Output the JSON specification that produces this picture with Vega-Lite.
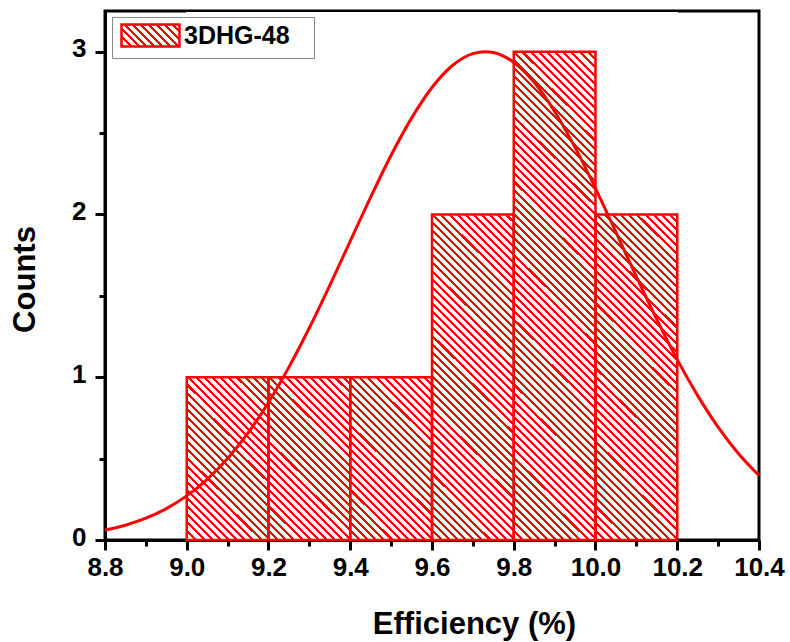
{
"$schema":"https://vega.github.io/schema/vega-lite/v6.json",
"width":654,"height":529,
"autosize":{"type":"none"},
"padding":{"left":105,"top":11,"right":31,"bottom":102},
"background":"white",
"datasets":{
"bars":[
{"lo":9.0,"hi":9.2,"count":1,"series":"3DHG-48"},
{"lo":9.2,"hi":9.4,"count":1,"series":"3DHG-48"},
{"lo":9.4,"hi":9.6,"count":1,"series":"3DHG-48"},
{"lo":9.6,"hi":9.8,"count":2,"series":"3DHG-48"},
{"lo":9.8,"hi":10.0,"count":3,"series":"3DHG-48"},
{"lo":10.0,"hi":10.2,"count":2,"series":"3DHG-48"}
],
"fit":[
{"fx":8.8,"fy":0.061},{"fx":8.85,"fy":0.091},{"fx":8.9,"fy":0.134},{"fx":8.95,"fy":0.193},
{"fx":9.0,"fy":0.271},{"fx":9.05,"fy":0.373},{"fx":9.1,"fy":0.501},{"fx":9.15,"fy":0.658},
{"fx":9.2,"fy":0.845},{"fx":9.25,"fy":1.062},{"fx":9.3,"fy":1.304},{"fx":9.35,"fy":1.565},
{"fx":9.4,"fy":1.836},{"fx":9.45,"fy":2.107},{"fx":9.5,"fy":2.364},{"fx":9.55,"fy":2.592},
{"fx":9.6,"fy":2.780},{"fx":9.65,"fy":2.915},{"fx":9.7,"fy":2.988},{"fx":9.73,"fy":3.0},
{"fx":9.75,"fy":2.995},{"fx":9.8,"fy":2.934},{"fx":9.85,"fy":2.812},{"fx":9.9,"fy":2.633},
{"fx":9.95,"fy":2.412},{"fx":10.0,"fy":2.160},{"fx":10.05,"fy":1.891},{"fx":10.1,"fy":1.618},
{"fx":10.15,"fy":1.355},{"fx":10.2,"fy":1.108},{"fx":10.25,"fy":0.887},{"fx":10.3,"fy":0.693},
{"fx":10.35,"fy":0.530},{"fx":10.4,"fy":0.396}
]
},
"layer":[
{
"data":{"name":"bars"},
"mark":{"type":"bar","strokeWidth":0,"fill":{"gradient":"linear","x1":0,"y1":1,"x2":0.1743,"y2":-0.1276,"stops":[
{"offset":0,"color":"red"},{"offset":0.005,"color":"red"},{"offset":0.005,"color":"white"},{"offset":0.0133,"color":"white"},
{"offset":0.0133,"color":"red"},{"offset":0.0183,"color":"red"},{"offset":0.0183,"color":"white"},{"offset":0.0267,"color":"white"},
{"offset":0.0267,"color":"red"},{"offset":0.0317,"color":"red"},{"offset":0.0317,"color":"white"},{"offset":0.04,"color":"white"},
{"offset":0.04,"color":"red"},{"offset":0.045,"color":"red"},{"offset":0.045,"color":"white"},{"offset":0.0533,"color":"white"},
{"offset":0.0533,"color":"red"},{"offset":0.0583,"color":"red"},{"offset":0.0583,"color":"white"},{"offset":0.0667,"color":"white"},
{"offset":0.0667,"color":"red"},{"offset":0.0717,"color":"red"},{"offset":0.0717,"color":"white"},{"offset":0.08,"color":"white"},
{"offset":0.08,"color":"red"},{"offset":0.085,"color":"red"},{"offset":0.085,"color":"white"},{"offset":0.0933,"color":"white"},
{"offset":0.0933,"color":"red"},{"offset":0.0983,"color":"red"},{"offset":0.0983,"color":"white"},{"offset":0.1067,"color":"white"},
{"offset":0.1067,"color":"red"},{"offset":0.1117,"color":"red"},{"offset":0.1117,"color":"white"},{"offset":0.12,"color":"white"},
{"offset":0.12,"color":"red"},{"offset":0.125,"color":"red"},{"offset":0.125,"color":"white"},{"offset":0.1333,"color":"white"},
{"offset":0.1333,"color":"red"},{"offset":0.1383,"color":"red"},{"offset":0.1383,"color":"white"},{"offset":0.1467,"color":"white"},
{"offset":0.1467,"color":"red"},{"offset":0.1517,"color":"red"},{"offset":0.1517,"color":"white"},{"offset":0.16,"color":"white"},
{"offset":0.16,"color":"red"},{"offset":0.165,"color":"red"},{"offset":0.165,"color":"white"},{"offset":0.1733,"color":"white"},
{"offset":0.1733,"color":"red"},{"offset":0.1783,"color":"red"},{"offset":0.1783,"color":"white"},{"offset":0.1867,"color":"white"},
{"offset":0.1867,"color":"red"},{"offset":0.1917,"color":"red"},{"offset":0.1917,"color":"white"},{"offset":0.2,"color":"white"},
{"offset":0.2,"color":"red"},{"offset":0.205,"color":"red"},{"offset":0.205,"color":"white"},{"offset":0.2133,"color":"white"},
{"offset":0.2133,"color":"red"},{"offset":0.2183,"color":"red"},{"offset":0.2183,"color":"white"},{"offset":0.2267,"color":"white"},
{"offset":0.2267,"color":"red"},{"offset":0.2317,"color":"red"},{"offset":0.2317,"color":"white"},{"offset":0.24,"color":"white"},
{"offset":0.24,"color":"red"},{"offset":0.245,"color":"red"},{"offset":0.245,"color":"white"},{"offset":0.2533,"color":"white"},
{"offset":0.2533,"color":"red"},{"offset":0.2583,"color":"red"},{"offset":0.2583,"color":"white"},{"offset":0.2667,"color":"white"},
{"offset":0.2667,"color":"red"},{"offset":0.2717,"color":"red"},{"offset":0.2717,"color":"white"},{"offset":0.28,"color":"white"},
{"offset":0.28,"color":"red"},{"offset":0.285,"color":"red"},{"offset":0.285,"color":"white"},{"offset":0.2933,"color":"white"},
{"offset":0.2933,"color":"red"},{"offset":0.2983,"color":"red"},{"offset":0.2983,"color":"white"},{"offset":0.3067,"color":"white"},
{"offset":0.3067,"color":"red"},{"offset":0.3117,"color":"red"},{"offset":0.3117,"color":"white"},{"offset":0.32,"color":"white"},
{"offset":0.32,"color":"red"},{"offset":0.325,"color":"red"},{"offset":0.325,"color":"white"},{"offset":0.3333,"color":"white"},
{"offset":0.3333,"color":"red"},{"offset":0.3383,"color":"red"},{"offset":0.3383,"color":"white"},{"offset":0.3467,"color":"white"},
{"offset":0.3467,"color":"red"},{"offset":0.3517,"color":"red"},{"offset":0.3517,"color":"white"},{"offset":0.36,"color":"white"},
{"offset":0.36,"color":"red"},{"offset":0.365,"color":"red"},{"offset":0.365,"color":"white"},{"offset":0.3733,"color":"white"},
{"offset":0.3733,"color":"red"},{"offset":0.3783,"color":"red"},{"offset":0.3783,"color":"white"},{"offset":0.3867,"color":"white"},
{"offset":0.3867,"color":"red"},{"offset":0.3917,"color":"red"},{"offset":0.3917,"color":"white"},{"offset":0.4,"color":"white"},
{"offset":0.4,"color":"red"},{"offset":0.405,"color":"red"},{"offset":0.405,"color":"white"},{"offset":0.4133,"color":"white"},
{"offset":0.4133,"color":"red"},{"offset":0.4183,"color":"red"},{"offset":0.4183,"color":"white"},{"offset":0.4267,"color":"white"},
{"offset":0.4267,"color":"red"},{"offset":0.4317,"color":"red"},{"offset":0.4317,"color":"white"},{"offset":0.44,"color":"white"},
{"offset":0.44,"color":"red"},{"offset":0.445,"color":"red"},{"offset":0.445,"color":"white"},{"offset":0.4533,"color":"white"},
{"offset":0.4533,"color":"red"},{"offset":0.4583,"color":"red"},{"offset":0.4583,"color":"white"},{"offset":0.4667,"color":"white"},
{"offset":0.4667,"color":"red"},{"offset":0.4717,"color":"red"},{"offset":0.4717,"color":"white"},{"offset":0.48,"color":"white"},
{"offset":0.48,"color":"red"},{"offset":0.485,"color":"red"},{"offset":0.485,"color":"white"},{"offset":0.4933,"color":"white"},
{"offset":0.4933,"color":"red"},{"offset":0.4983,"color":"red"},{"offset":0.4983,"color":"white"},{"offset":0.5067,"color":"white"},
{"offset":0.5067,"color":"red"},{"offset":0.5117,"color":"red"},{"offset":0.5117,"color":"white"},{"offset":0.52,"color":"white"},
{"offset":0.52,"color":"red"},{"offset":0.525,"color":"red"},{"offset":0.525,"color":"white"},{"offset":0.5333,"color":"white"},
{"offset":0.5333,"color":"red"},{"offset":0.5383,"color":"red"},{"offset":0.5383,"color":"white"},{"offset":0.5467,"color":"white"},
{"offset":0.5467,"color":"red"},{"offset":0.5517,"color":"red"},{"offset":0.5517,"color":"white"},{"offset":0.56,"color":"white"},
{"offset":0.56,"color":"red"},{"offset":0.565,"color":"red"},{"offset":0.565,"color":"white"},{"offset":0.5733,"color":"white"},
{"offset":0.5733,"color":"red"},{"offset":0.5783,"color":"red"},{"offset":0.5783,"color":"white"},{"offset":0.5867,"color":"white"},
{"offset":0.5867,"color":"red"},{"offset":0.5917,"color":"red"},{"offset":0.5917,"color":"white"},{"offset":0.6,"color":"white"},
{"offset":0.6,"color":"red"},{"offset":0.605,"color":"red"},{"offset":0.605,"color":"white"},{"offset":0.6133,"color":"white"},
{"offset":0.6133,"color":"red"},{"offset":0.6183,"color":"red"},{"offset":0.6183,"color":"white"},{"offset":0.6267,"color":"white"},
{"offset":0.6267,"color":"red"},{"offset":0.6317,"color":"red"},{"offset":0.6317,"color":"white"},{"offset":0.64,"color":"white"},
{"offset":0.64,"color":"red"},{"offset":0.645,"color":"red"},{"offset":0.645,"color":"white"},{"offset":0.6533,"color":"white"},
{"offset":0.6533,"color":"red"},{"offset":0.6583,"color":"red"},{"offset":0.6583,"color":"white"},{"offset":0.6667,"color":"white"},
{"offset":0.6667,"color":"red"},{"offset":0.6717,"color":"red"},{"offset":0.6717,"color":"white"},{"offset":0.68,"color":"white"},
{"offset":0.68,"color":"red"},{"offset":0.685,"color":"red"},{"offset":0.685,"color":"white"},{"offset":0.6933,"color":"white"},
{"offset":0.6933,"color":"red"},{"offset":0.6983,"color":"red"},{"offset":0.6983,"color":"white"},{"offset":0.7067,"color":"white"},
{"offset":0.7067,"color":"red"},{"offset":0.7117,"color":"red"},{"offset":0.7117,"color":"white"},{"offset":0.72,"color":"white"},
{"offset":0.72,"color":"red"},{"offset":0.725,"color":"red"},{"offset":0.725,"color":"white"},{"offset":0.7333,"color":"white"},
{"offset":0.7333,"color":"red"},{"offset":0.7383,"color":"red"},{"offset":0.7383,"color":"white"},{"offset":0.7467,"color":"white"},
{"offset":0.7467,"color":"red"},{"offset":0.7517,"color":"red"},{"offset":0.7517,"color":"white"},{"offset":0.76,"color":"white"},
{"offset":0.76,"color":"red"},{"offset":0.765,"color":"red"},{"offset":0.765,"color":"white"},{"offset":0.7733,"color":"white"},
{"offset":0.7733,"color":"red"},{"offset":0.7783,"color":"red"},{"offset":0.7783,"color":"white"},{"offset":0.7867,"color":"white"},
{"offset":0.7867,"color":"red"},{"offset":0.7917,"color":"red"},{"offset":0.7917,"color":"white"},{"offset":0.8,"color":"white"},
{"offset":0.8,"color":"red"},{"offset":0.805,"color":"red"},{"offset":0.805,"color":"white"},{"offset":0.8133,"color":"white"},
{"offset":0.8133,"color":"red"},{"offset":0.8183,"color":"red"},{"offset":0.8183,"color":"white"},{"offset":0.8267,"color":"white"},
{"offset":0.8267,"color":"red"},{"offset":0.8317,"color":"red"},{"offset":0.8317,"color":"white"},{"offset":0.84,"color":"white"},
{"offset":0.84,"color":"red"},{"offset":0.845,"color":"red"},{"offset":0.845,"color":"white"},{"offset":0.8533,"color":"white"},
{"offset":0.8533,"color":"red"},{"offset":0.8583,"color":"red"},{"offset":0.8583,"color":"white"},{"offset":0.8667,"color":"white"},
{"offset":0.8667,"color":"red"},{"offset":0.8717,"color":"red"},{"offset":0.8717,"color":"white"},{"offset":0.88,"color":"white"},
{"offset":0.88,"color":"red"},{"offset":0.885,"color":"red"},{"offset":0.885,"color":"white"},{"offset":0.8933,"color":"white"},
{"offset":0.8933,"color":"red"},{"offset":0.8983,"color":"red"},{"offset":0.8983,"color":"white"},{"offset":0.9067,"color":"white"},
{"offset":0.9067,"color":"red"},{"offset":0.9117,"color":"red"},{"offset":0.9117,"color":"white"},{"offset":0.92,"color":"white"},
{"offset":0.92,"color":"red"},{"offset":0.925,"color":"red"},{"offset":0.925,"color":"white"},{"offset":0.9333,"color":"white"},
{"offset":0.9333,"color":"red"},{"offset":0.9383,"color":"red"},{"offset":0.9383,"color":"white"},{"offset":0.9467,"color":"white"},
{"offset":0.9467,"color":"red"},{"offset":0.9517,"color":"red"},{"offset":0.9517,"color":"white"},{"offset":0.96,"color":"white"},
{"offset":0.96,"color":"red"},{"offset":0.965,"color":"red"},{"offset":0.965,"color":"white"},{"offset":0.9733,"color":"white"},
{"offset":0.9733,"color":"red"},{"offset":0.9783,"color":"red"},{"offset":0.9783,"color":"white"},{"offset":0.9867,"color":"white"},
{"offset":0.9867,"color":"red"},{"offset":0.9917,"color":"red"},{"offset":0.9917,"color":"white"},{"offset":1,"color":"white"}
]}},
"encoding":{
"x":{"field":"lo","type":"quantitative","scale":{"domain":[8.8,10.4],"nice":false,"zero":false},
"axis":{"title":"Efficiency (%)","values":[8.8,8.9,9.0,9.1,9.2,9.3,9.4,9.5,9.6,9.7,9.8,9.9,10.0,10.1,10.2,10.3,10.4],
"labelExpr":"abs(datum.value*5-round(datum.value*5))<0.01 ? format(datum.value,'.1f') : ''",
"tickSize":{"condition":{"test":"abs(datum.value*5-round(datum.value*5))>0.01","value":6},"value":10},
"labelFlush":false,"labelOverlap":false,"labelBaseline":"alphabetic","labelPadding":25,
"titleX":369,"titleY":93,"titleAlign":"center","titleBaseline":"alphabetic"}},
"x2":{"field":"hi"},
"y":{"datum":3.24,"type":"quantitative","scale":{"domain":[0,3.25],"nice":false,"zero":true},
"axis":{"title":"Counts","values":[0,0.5,1,1.5,2,2.5,3],
"labelExpr":"datum.value % 1 == 0 ? format(datum.value,'d') : ''",
"tickSize":{"condition":{"test":"datum.value % 1 != 0","value":6},"value":10},
"labelPadding":9,"labelOffset":-3,"titleX":-80,"titleY":268,"titleBaseline":"middle","titleAlign":"center"}},
"y2":{"datum":0}
}
},
{
"data":{"name":"bars"},
"mark":{"type":"bar","fill":"white","stroke":"white","strokeWidth":1.5},
"encoding":{
"x":{"field":"lo","type":"quantitative"},
"x2":{"field":"hi"},
"y":{"field":"count","type":"quantitative"},
"y2":{"datum":3.24}
}
},
{
"data":{"name":"bars"},
"mark":{"type":"bar","fillOpacity":0,"strokeWidth":2.5,"fill":{"gradient":"linear","x1":0,"y1":1,"x2":1.2057,"y2":0.5426,"stops":[
{"offset":0,"color":"red"},{"offset":0.0375,"color":"red"},{"offset":0.0375,"color":"white"},{"offset":0.1,"color":"white"},
{"offset":0.1,"color":"red"},{"offset":0.1375,"color":"red"},{"offset":0.1375,"color":"white"},{"offset":0.2,"color":"white"},
{"offset":0.2,"color":"red"},{"offset":0.2375,"color":"red"},{"offset":0.2375,"color":"white"},{"offset":0.3,"color":"white"},
{"offset":0.3,"color":"red"},{"offset":0.3375,"color":"red"},{"offset":0.3375,"color":"white"},{"offset":0.4,"color":"white"},
{"offset":0.4,"color":"red"},{"offset":0.4375,"color":"red"},{"offset":0.4375,"color":"white"},{"offset":0.5,"color":"white"},
{"offset":0.5,"color":"red"},{"offset":0.5375,"color":"red"},{"offset":0.5375,"color":"white"},{"offset":0.6,"color":"white"},
{"offset":0.6,"color":"red"},{"offset":0.6375,"color":"red"},{"offset":0.6375,"color":"white"},{"offset":0.7,"color":"white"},
{"offset":0.7,"color":"red"},{"offset":0.7375,"color":"red"},{"offset":0.7375,"color":"white"},{"offset":0.8,"color":"white"},
{"offset":0.8,"color":"red"},{"offset":0.8375,"color":"red"},{"offset":0.8375,"color":"white"},{"offset":0.9,"color":"white"},
{"offset":0.9,"color":"red"},{"offset":0.9375,"color":"red"},{"offset":0.9375,"color":"white"},{"offset":1,"color":"white"}
]}},
"encoding":{
"x":{"field":"lo","type":"quantitative"},
"x2":{"field":"hi"},
"y":{"field":"count","type":"quantitative"},
"y2":{"datum":0},
"stroke":{"field":"series","type":"nominal","scale":{"range":["red"]},
"legend":{"orient":"none","legendX":7,"legendY":6,"title":null,"padding":6,"strokeColor":"#888","fillColor":"white",
"labelFont":"Liberation Sans","labelFontWeight":"bold","labelFontSize":25,"labelColor":"black",
"labelExpr":"datum.label + '\u2800'",
"symbolType":"M-2.636,-1H2.636V1H-2.636Z","symbolSize":484,"symbolStrokeWidth":2.5,"symbolStrokeColor":"red","symbolOpacity":1,"symbolOffset":20,"labelOffset":21,
"encode":{"symbols":{"update":{"fillOpacity":{"value":1}}}}
}
}
}
},
{
"data":{"name":"fit"},
"mark":{"type":"line","stroke":"red","strokeWidth":3,"interpolate":"monotone"},
"encoding":{
"x":{"field":"fx","type":"quantitative"},
"y":{"field":"fy","type":"quantitative"}
}
}
],
"config":{
"view":{"stroke":"black","strokeWidth":3},
"axis":{"domainColor":"black","domainWidth":3,"tickColor":"black","tickWidth":3,"grid":false,"zindex":1,
"labelFont":"Liberation Sans","labelFontWeight":"bold","labelFontSize":26,"labelColor":"black",
"titleFont":"Liberation Sans","titleFontWeight":"bold","titleFontSize":31,"titleColor":"black"}
}
}
